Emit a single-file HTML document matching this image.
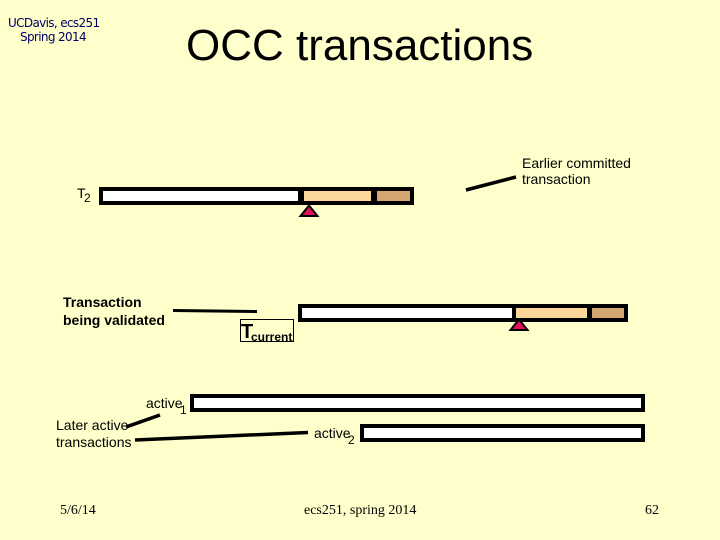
<!DOCTYPE html>
<html>
<head>
<meta charset="utf-8">
<style>
html,body{margin:0;padding:0}
body{width:720px;height:540px;overflow:hidden;background:#ffffcc;position:relative;font-family:"Liberation Sans",sans-serif;color:#000}
.t{position:absolute;white-space:nowrap;line-height:1}
.b{position:absolute;background:#000}
.f{position:absolute}
svg{position:absolute;left:0;top:0}
</style>
</head>
<body>
<div class="b" style="left:99px;top:187px;width:315px;height:18px"></div>
<div class="f" style="left:103px;top:191px;width:195px;height:10px;background:#fff"></div>
<div class="f" style="left:304px;top:191px;width:67px;height:10px;background:#fdd699"></div>
<div class="f" style="left:377px;top:191px;width:33px;height:10px;background:#d4a672"></div>

<div class="b" style="left:298px;top:304px;width:330px;height:18px"></div>
<div class="f" style="left:302px;top:308px;width:210px;height:10px;background:#fff"></div>
<div class="f" style="left:516px;top:308px;width:71px;height:10px;background:#fdd699"></div>
<div class="f" style="left:592px;top:308px;width:32px;height:10px;background:#d4a672"></div>

<div class="b" style="left:190px;top:394px;width:455px;height:18px"></div>
<div class="f" style="left:194px;top:398px;width:447px;height:10px;background:#fff"></div>
<div class="b" style="left:360px;top:424px;width:285px;height:18px"></div>
<div class="f" style="left:364px;top:428px;width:277px;height:10px;background:#fff"></div>

<svg width="720" height="540" viewBox="0 0 720 540">
<polygon points="309,205.500 317.500,216 300.500,216" fill="#e0105a" stroke="#000" stroke-width="2"/>
<polygon points="519,319.500 527.500,330 510.500,330" fill="#e0105a" stroke="#000" stroke-width="2"/>
<line x1="466" y1="190" x2="516" y2="177" stroke="#000" stroke-width="3.500"/>
<line x1="173" y1="310.500" x2="257" y2="311.500" stroke="#000" stroke-width="3"/>
<line x1="126" y1="427" x2="160" y2="415" stroke="#000" stroke-width="3.500"/>
<line x1="135" y1="440" x2="308" y2="432.500" stroke="#000" stroke-width="3.500"/>
<rect x="240.500" y="319.500" width="53" height="22" fill="none" stroke="#000" stroke-width="1"/>
</svg>

<div class="t" style="left:186px;top:24px;font-size:44px">OCC transactions</div>
<div class="t" style="left:8px;top:17px;color:#000066;font-family:'DejaVu Sans',sans-serif;letter-spacing:-0.650px;font-size:12px">UCDavis, ecs251</div>
<div class="t" style="left:20px;top:31px;color:#000066;font-family:'DejaVu Sans',sans-serif;letter-spacing:-0.650px;font-size:12px">Spring 2014</div>

<div class="t" style="left:522px;top:156px;font-size:14px">Earlier committed</div>
<div class="t" style="left:522px;top:172px;font-size:14px">transaction</div>

<div class="t" style="left:77px;top:186px;font-size:14px">T</div>
<div class="t" style="left:84px;top:192px;font-size:12px">2</div>

<div class="t" style="left:63px;top:295px;font-size:14px;font-weight:bold">Transaction</div>
<div class="t" style="left:63px;top:313px;font-size:14px;font-weight:bold">being validated</div>

<div class="t" style="left:241px;top:322px;font-size:20px;font-weight:bold">T</div>
<div class="t" style="left:251px;top:331px;font-size:12px;font-weight:bold">current</div>

<div class="t" style="left:146px;top:396px;font-size:14px">active</div>
<div class="t" style="left:180px;top:404px;font-size:12px">1</div>
<div class="t" style="left:314px;top:426px;font-size:14px">active</div>
<div class="t" style="left:348px;top:434px;font-size:12px">2</div>

<div class="t" style="left:56px;top:418px;font-size:14px">Later active</div>
<div class="t" style="left:56px;top:435px;font-size:14px">transactions</div>

<div class="t" style="left:60px;top:504px;font-size:14px;font-family:'Liberation Serif',serif">5/6/14</div>
<div class="t" style="left:304px;top:504px;font-size:14px;font-family:'Liberation Serif',serif">ecs251, spring 2014</div>
<div class="t" style="left:645px;top:504px;font-size:14px;font-family:'Liberation Serif',serif">62</div>
</body>
</html>
